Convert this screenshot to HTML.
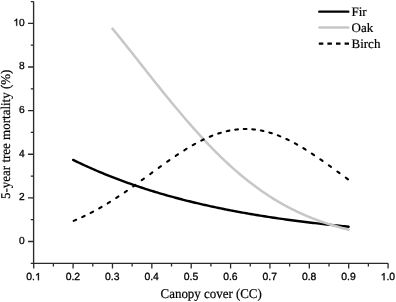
<!DOCTYPE html>
<html><head><meta charset="utf-8"><style>
html,body{margin:0;padding:0;background:#fff;}
body{width:396px;height:302px;overflow:hidden;}
svg{display:block;filter:grayscale(1);}
text{text-rendering:geometricPrecision;}
.s{font-family:"Liberation Sans",sans-serif;font-size:10.2px;fill:#000;stroke:#000;stroke-width:0.3;}
.r{font-family:"Liberation Serif",serif;fill:#000;stroke:#000;stroke-width:0.2;}
</style></head><body>
<svg width="396" height="302" viewBox="0 0 396 302">
<rect width="396" height="302" fill="#fff"/>
<path d="M33.6,1.53 V263.31 H388.06" fill="none" stroke="#2a2a2a" stroke-width="1.35"/>
<path d="M28.0,241.50 H33.6 M28.0,197.87 H33.6 M28.0,154.24 H33.6 M28.0,110.61 H33.6 M28.0,66.98 H33.6 M28.0,23.35 H33.6 M30.8,263.31 H33.6 M30.8,219.69 H33.6 M30.8,176.06 H33.6 M30.8,132.43 H33.6 M30.8,88.79 H33.6 M30.8,45.16 H33.6 M30.8,1.53 H33.6 M33.73,263.31 V268.6 M73.10,263.31 V268.6 M112.47,263.31 V268.6 M151.84,263.31 V268.6 M191.21,263.31 V268.6 M230.58,263.31 V268.6 M269.95,263.31 V268.6 M309.32,263.31 V268.6 M348.69,263.31 V268.6 M388.06,263.31 V268.6 M53.41,263.31 V266.6 M92.78,263.31 V266.6 M132.15,263.31 V266.6 M171.52,263.31 V266.6 M210.90,263.31 V266.6 M250.26,263.31 V266.6 M289.63,263.31 V266.6 M329.00,263.31 V266.6 M368.38,263.31 V266.6" fill="none" stroke="#2a2a2a" stroke-width="1.3"/>
<g class="s"><text x="24.7" y="244.00" text-anchor="end">0</text><text x="24.7" y="200.37" text-anchor="end">2</text><text x="24.7" y="156.74" text-anchor="end">4</text><text x="24.7" y="113.11" text-anchor="end">6</text><text x="24.7" y="69.48" text-anchor="end">8</text><text x="24.7" y="25.85" text-anchor="end">10</text><text x="33.53" y="280.2" text-anchor="middle" font-size="10.4">0.1</text><text x="72.90" y="280.2" text-anchor="middle" font-size="10.4">0.2</text><text x="112.27" y="280.2" text-anchor="middle" font-size="10.4">0.3</text><text x="151.64" y="280.2" text-anchor="middle" font-size="10.4">0.4</text><text x="191.01" y="280.2" text-anchor="middle" font-size="10.4">0.5</text><text x="230.38" y="280.2" text-anchor="middle" font-size="10.4">0.6</text><text x="269.75" y="280.2" text-anchor="middle" font-size="10.4">0.7</text><text x="309.12" y="280.2" text-anchor="middle" font-size="10.4">0.8</text><text x="348.49" y="280.2" text-anchor="middle" font-size="10.4">0.9</text><text x="387.86" y="280.2" text-anchor="middle" font-size="10.4">1.0</text></g>
<path d="M13,18 H19 V27 H13Z M35,272 H41 V281 H35Z M381,272 H387 V281 H381Z" fill="#fff"/>
<path d="M17.15,25.85L16.26,25.85L16.26,20.14Q15.93,20.45 15.51,20.76Q15.00,21.08 14.47,21.22L14.47,20.36Q15.25,19.99 15.84,19.47Q16.24,19.12 16.44,18.83L17.15,18.83Z M38.85,280.20L37.94,280.20L37.94,274.38Q37.61,274.69 37.17,275.01Q36.65,275.34 36.11,275.48L36.11,274.60Q36.91,274.22 37.51,273.69Q37.92,273.33 38.12,273.04L38.85,273.04Z M384.51,280.20L383.59,280.20L383.59,274.38Q383.26,274.69 382.83,275.01Q382.31,275.34 381.76,275.48L381.76,274.60Q382.57,274.22 383.17,273.69Q383.58,273.33 383.78,273.04L384.51,273.04Z" fill="#000" stroke="#000" stroke-width="0.3" stroke-linejoin="round"/>
<path d="M73.10,159.90 L75.07,160.86 L77.04,161.80 L79.01,162.74 L80.97,163.67 L82.94,164.59 L84.91,165.50 L86.88,166.39 L88.85,167.28 L90.82,168.16 L92.78,169.02 L94.75,169.88 L96.72,170.73 L98.69,171.56 L100.66,172.39 L102.63,173.21 L104.60,174.02 L106.56,174.82 L108.53,175.61 L110.50,176.39 L112.47,177.17 L114.44,177.93 L116.41,178.69 L118.38,179.43 L120.34,180.17 L122.31,180.90 L124.28,181.62 L126.25,182.34 L128.22,183.04 L130.19,183.74 L132.15,184.43 L134.12,185.11 L136.09,185.78 L138.06,186.45 L140.03,187.10 L142.00,187.75 L143.97,188.40 L145.93,189.03 L147.90,189.66 L149.87,190.28 L151.84,190.89 L153.81,191.50 L155.78,192.10 L157.75,192.69 L159.71,193.28 L161.68,193.86 L163.65,194.43 L165.62,194.99 L167.59,195.55 L169.56,196.10 L171.52,196.65 L173.49,197.19 L175.46,197.72 L177.43,198.25 L179.40,198.77 L181.37,199.28 L183.34,199.79 L185.30,200.30 L187.27,200.79 L189.24,201.28 L191.21,201.77 L193.18,202.25 L195.15,202.72 L197.12,203.19 L199.08,203.65 L201.05,204.11 L203.02,204.56 L204.99,205.01 L206.96,205.45 L208.93,205.89 L210.90,206.32 L212.86,206.75 L214.83,207.17 L216.80,207.58 L218.77,208.00 L220.74,208.40 L222.71,208.80 L224.67,209.20 L226.64,209.59 L228.61,209.98 L230.58,210.36 L232.55,210.74 L234.52,211.12 L236.49,211.49 L238.45,211.85 L240.42,212.21 L242.39,212.57 L244.36,212.92 L246.33,213.27 L248.30,213.62 L250.26,213.96 L252.23,214.29 L254.20,214.62 L256.17,214.95 L258.14,215.28 L260.11,215.60 L262.08,215.91 L264.04,216.23 L266.01,216.54 L267.98,216.84 L269.95,217.14 L271.92,217.44 L273.89,217.74 L275.86,218.03 L277.82,218.32 L279.79,218.60 L281.76,218.88 L283.73,219.16 L285.70,219.44 L287.67,219.71 L289.63,219.97 L291.60,220.24 L293.57,220.50 L295.54,220.76 L297.51,221.02 L299.48,221.27 L301.45,221.52 L303.41,221.76 L305.38,222.01 L307.35,222.25 L309.32,222.49 L311.29,222.72 L313.26,222.95 L315.23,223.18 L317.19,223.41 L319.16,223.63 L321.13,223.85 L323.10,224.07 L325.07,224.29 L327.04,224.50 L329.00,224.71 L330.97,224.92 L332.94,225.13 L334.91,225.33 L336.88,225.53 L338.85,225.73 L340.82,225.93 L342.78,226.12 L344.75,226.31 L346.72,226.50 L348.69,226.69" fill="none" stroke="#000" stroke-width="2.4" stroke-linecap="round" stroke-linejoin="round"/>
<path d="M112.47,28.62 L114.16,30.68 L115.84,32.75 L117.53,34.82 L119.22,36.91 L120.91,39.00 L122.59,41.10 L124.28,43.21 L125.97,45.32 L127.66,47.43 L129.34,49.56 L131.03,51.68 L132.72,53.81 L134.40,55.95 L136.09,58.08 L137.78,60.22 L139.47,62.36 L141.15,64.50 L142.84,66.64 L144.53,68.78 L146.22,70.92 L147.90,73.05 L149.59,75.19 L151.28,77.32 L152.96,79.44 L154.65,81.56 L156.34,83.68 L158.03,85.79 L159.71,87.90 L161.40,90.00 L163.09,92.09 L164.78,94.18 L166.46,96.25 L168.15,98.32 L169.84,100.39 L171.52,102.44 L173.21,104.48 L174.90,106.52 L176.59,108.54 L178.27,110.55 L179.96,112.55 L181.65,114.55 L183.34,116.52 L185.02,118.49 L186.71,120.45 L188.40,122.39 L190.09,124.32 L191.77,126.23 L193.46,128.13 L195.15,130.02 L196.83,131.89 L198.52,133.75 L200.21,135.60 L201.90,137.43 L203.58,139.24 L205.27,141.04 L206.96,142.83 L208.65,144.60 L210.33,146.35 L212.02,148.09 L213.71,149.82 L215.39,151.52 L217.08,153.21 L218.77,154.88 L220.46,156.54 L222.14,158.18 L223.83,159.79 L225.52,161.39 L227.21,162.98 L228.89,164.54 L230.58,166.08 L232.27,167.60 L233.95,169.11 L235.64,170.59 L237.33,172.06 L239.02,173.50 L240.70,174.93 L242.39,176.33 L244.08,177.72 L245.77,179.08 L247.45,180.43 L249.14,181.75 L250.83,183.06 L252.51,184.35 L254.20,185.62 L255.89,186.87 L257.58,188.10 L259.26,189.31 L260.95,190.50 L262.64,191.67 L264.33,192.83 L266.01,193.96 L267.70,195.08 L269.39,196.18 L271.07,197.26 L272.76,198.32 L274.45,199.36 L276.14,200.38 L277.82,201.39 L279.51,202.38 L281.20,203.35 L282.89,204.30 L284.57,205.24 L286.26,206.15 L287.95,207.05 L289.63,207.94 L291.32,208.80 L293.01,209.65 L294.70,210.49 L296.38,211.31 L298.07,212.11 L299.76,212.89 L301.45,213.66 L303.13,214.41 L304.82,215.15 L306.51,215.87 L308.20,216.58 L309.88,217.27 L311.57,217.95 L313.26,218.61 L314.94,219.26 L316.63,219.89 L318.32,220.51 L320.01,221.12 L321.69,221.71 L323.38,222.29 L325.07,222.86 L326.76,223.42 L328.44,223.97 L330.13,224.50 L331.82,225.03 L333.50,225.54 L335.19,226.05 L336.88,226.54 L338.57,227.03 L340.25,227.50 L341.94,227.97 L343.63,228.42 L345.32,228.87 L347.00,229.31 L348.69,229.73" fill="none" stroke="#c7c7c7" stroke-width="2.5" stroke-linecap="round" stroke-linejoin="round"/>
<path d="M73.65,220.89 L74.27,220.63 L74.89,220.37 L75.55,220.09 L76.17,219.82 M82.16,217.12 L82.78,216.83 L83.37,216.55 L83.99,216.26 L84.61,215.96 M90.67,212.93 L91.29,212.61 L91.87,212.31 L92.46,212.00 L93.08,211.67 M99.18,208.33 L99.76,208.00 L100.38,207.64 L100.97,207.31 L101.55,206.97 M107.69,203.33 L108.27,202.97 L108.86,202.61 L109.41,202.27 L109.99,201.91 M116.20,197.96 L116.78,197.58 L117.33,197.22 L117.88,196.86 L118.47,196.47 M124.70,192.28 L125.26,191.90 L125.81,191.52 L126.39,191.12 L126.94,190.74 M133.21,186.34 L133.76,185.95 L134.32,185.56 L134.87,185.16 L135.42,184.77 M141.72,180.22 L142.27,179.82 L142.82,179.42 L143.38,179.02 L143.93,178.62 M150.20,174.03 L150.75,173.63 L151.30,173.23 L151.85,172.82 L152.40,172.42 M158.71,167.82 L159.26,167.42 L159.81,167.02 L160.36,166.63 L160.91,166.23 M167.21,161.72 L167.77,161.33 L168.32,160.95 L168.90,160.54 L169.45,160.15 M175.72,155.84 L176.31,155.45 L176.86,155.08 L177.41,154.71 L178.00,154.32 M184.23,150.30 L184.82,149.93 L185.40,149.56 L185.95,149.22 L186.54,148.86 M192.74,145.19 L193.33,144.86 L193.95,144.51 L194.53,144.19 L195.12,143.86 M201.25,140.64 L201.87,140.33 L202.49,140.03 L203.08,139.74 L203.70,139.45 M209.76,136.73 L210.38,136.47 L211.03,136.21 L211.65,135.96 L212.27,135.71 M218.27,133.56 L218.92,133.34 L219.58,133.14 L220.20,132.94 L220.85,132.75 M226.74,131.19 L227.40,131.04 L228.05,130.90 L228.74,130.75 L229.39,130.62 M235.25,129.67 L235.90,129.58 L236.59,129.51 L237.28,129.43 L237.94,129.37 M243.76,129.03 L244.45,129.02 L245.14,129.01 L245.79,129.01 L246.48,129.02 M252.27,129.30 L252.92,129.36 L253.61,129.42 L254.30,129.50 L254.95,129.57 M260.78,130.47 L261.43,130.59 L262.09,130.72 L262.77,130.87 L263.43,131.01 M269.29,132.50 L269.94,132.69 L270.56,132.88 L271.21,133.08 L271.87,133.29 M277.79,135.36 L278.41,135.60 L279.03,135.85 L279.69,136.11 L280.31,136.36 M286.30,138.99 L286.92,139.28 L287.51,139.56 L288.13,139.86 L288.75,140.16 M294.81,143.29 L295.40,143.61 L295.98,143.93 L296.60,144.28 L297.19,144.60 M303.29,148.17 L303.87,148.52 L304.46,148.88 L305.01,149.22 L305.59,149.58 M311.80,153.55 L312.38,153.93 L312.93,154.30 L313.48,154.66 L314.07,155.05 M320.30,159.31 L320.86,159.69 L321.41,160.07 L321.99,160.48 L322.54,160.87 M328.81,165.33 L329.36,165.73 L329.92,166.12 L330.47,166.52 L331.02,166.92 M337.32,171.51 L337.87,171.91 L338.42,172.31 L338.98,172.72 L339.53,173.12 M345.83,177.73 L346.38,178.13 L346.93,178.54 L347.48,178.94 L348.04,179.34" fill="none" stroke="#000" stroke-width="2.1" stroke-linecap="round"/>
<path d="M319.3,11.65 H348.3" stroke="#000" stroke-width="2.4" stroke-linecap="round"/>
<path d="M319.4,27.6 H348.3" stroke="#c7c7c7" stroke-width="2.5" stroke-linecap="round"/>
<path d="M318.8,43.65 H323.3 M327.4,43.65 H331.9 M336.0,43.65 H340.5 M344.6,43.65 H349.0" stroke="#000" stroke-width="2.2"/>
<g class="r" font-size="13">
<text x="351.5" y="15.8">Fir</text>
<text x="351.5" y="31.8">Oak</text>
<text x="351.5" y="47.8">Birch</text>
</g>
<text class="r" font-size="13.4" transform="translate(211.2,298) scale(0.965,1)" text-anchor="middle">Canopy cover (CC)</text>
<text class="r" font-size="13.4" transform="translate(9.9,134.3) rotate(-90) scale(0.97,1)" text-anchor="middle">5-year tree mortality (%)</text>
</svg>
</body></html>
